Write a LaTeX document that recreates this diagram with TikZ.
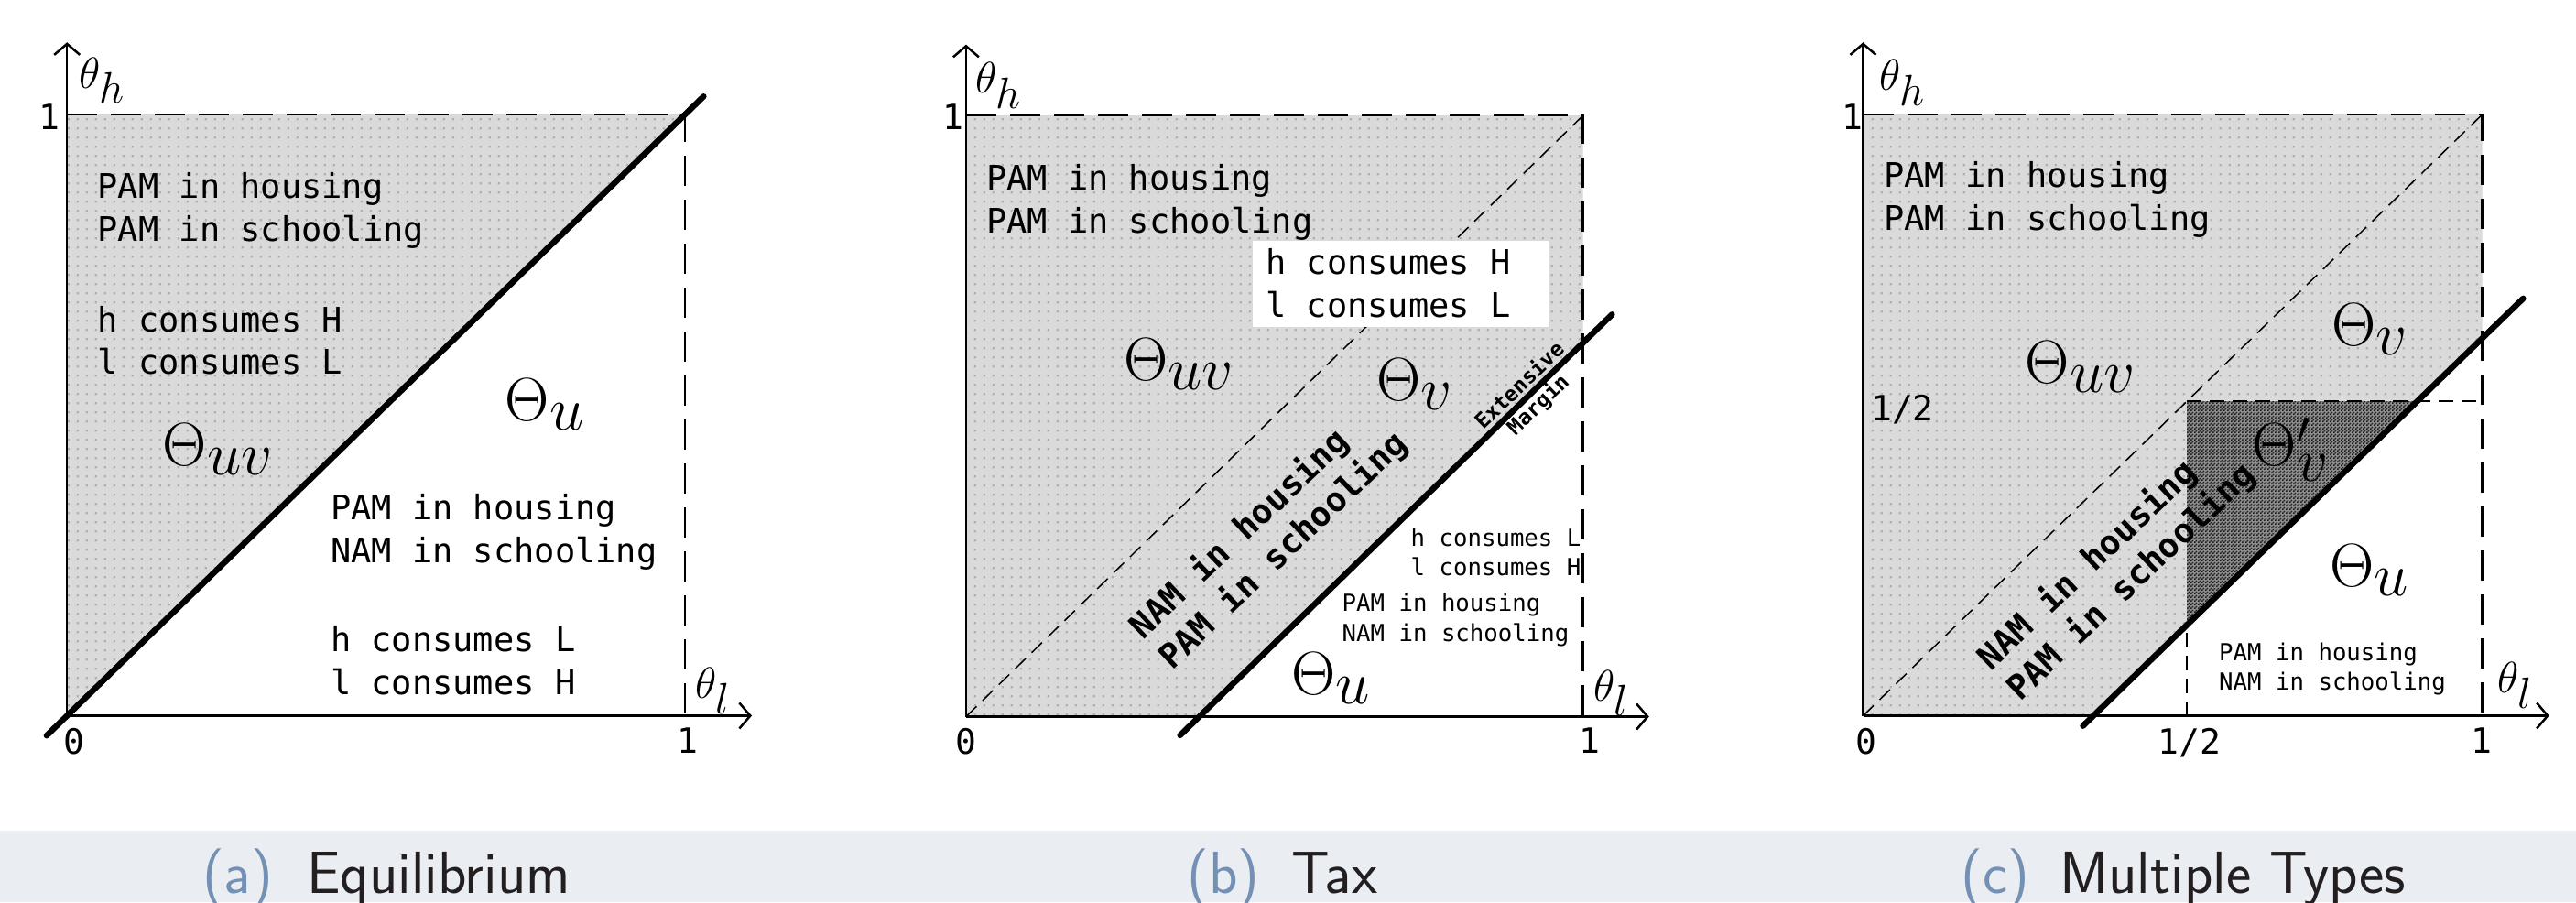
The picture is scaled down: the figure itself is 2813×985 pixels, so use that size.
\RequirePackage{fix-cm}
\documentclass[tikz,border=0pt]{standalone}
\usepackage{fontspec}
\newfontfamily\monof{DejaVu Sans Mono}
\newfontfamily\capf{lmsans17-regular.otf}
\usetikzlibrary{arrows.meta,patterns}
\DeclareMathSizes{67}{67}{50}{40}
\DeclareMathSizes{48}{48}{36}{28}
\definecolor{lgrey}{HTML}{DADADA}
\definecolor{dotgrey}{HTML}{B0B0B0}
\definecolor{darkbase}{HTML}{8C8C8C}
\definecolor{darkdots}{HTML}{1E1E1E}
\definecolor{bandc}{HTML}{EAEEF3}
\definecolor{capblue}{HTML}{7490B4}
\definecolor{captext}{HTML}{231F20}
\pgfdeclarepatternformonly{greydots}{\pgfqpoint{0pt}{0pt}}{\pgfqpoint{10pt}{10pt}}{\pgfqpoint{10pt}{10pt}}{\pgfpathrectangle{\pgfqpoint{4pt}{4pt}}{\pgfqpoint{2.4pt}{2.4pt}}\pgfusepath{fill}}
\pgfdeclarepatternformonly{finechecker}{\pgfqpoint{0pt}{0pt}}{\pgfqpoint{4pt}{4pt}}{\pgfqpoint{4pt}{4pt}}{\pgfpathrectangle{\pgfqpoint{0pt}{0pt}}{\pgfqpoint{2pt}{2pt}}\pgfpathrectangle{\pgfqpoint{2pt}{2pt}}{\pgfqpoint{2pt}{2pt}}\pgfusepath{fill}}
\tikzset{
  mono/.style={font=\fontsize{37}{46.6}\selectfont\monof, inner sep=0pt, anchor=base west},
  monosmall/.style={font=\fontsize{25.7}{33}\selectfont\monof, inner sep=0pt, anchor=base west},
  monobold/.style={font=\fontsize{37}{46}\selectfont\monof\bfseries, inner sep=0pt, align=left, rotate=43.5},
  tinybold/.style={font=\fontsize{23}{29}\selectfont\monof\bfseries, inner sep=0pt, align=center, rotate=44},
  bigmath/.style={font=\fontsize{67}{70}\selectfont, inner sep=0pt, anchor=base west},
  axmath/.style={font=\fontsize{48}{52}\selectfont, inner sep=0pt},
  tick/.style={font=\fontsize{38}{40}\selectfont\monof, inner sep=0pt},
  axisline/.style={line width=2.5pt, -{Straight Barb[length=12pt,width=28pt]}},
  bound/.style={line width=2.6pt, dash pattern=on 33pt off 15pt},
  thindash/.style={line width=1.5pt, dash pattern=on 16pt off 9pt},
  thickline/.style={line width=6.5pt, line cap=round},
  capfont/.style={font=\fontsize{65}{70}\selectfont\capf, inner sep=0pt, anchor=base west},
}
\begin{document}
\begin{tikzpicture}[x=1pt,y=-1pt]
\useasboundingbox (0,0) rectangle (2813,985);
\fill[white] (0,0) rectangle (2813,985);
% ---------------- panel a ----------------
\begin{scope}[shift={(73.2,781.5)}, x=674.9pt, y=656.5pt]
  \coordinate (aO) at (0,0); \coordinate (aX1) at (1,0);
  \coordinate (aY1) at (0,1); \coordinate (aC) at (1,1);
  \fill[lgrey] (aO) -- (aC) -- (aY1) -- cycle;
  \path[pattern=greydots, pattern color=dotgrey] (aO) -- (aC) -- (aY1) -- cycle;
  \draw[bound] (aY1) -- (aC) -- (aX1);
  \draw[axisline] (aO) -- (0,1.12);
  \draw[axisline] (aO) -- (1.108,0);
  \draw[thickline] (-0.033,-0.033) -- (1.03,1.03);
\end{scope}
\node[mono] (a1) at (106.5,216.6) {PAM in housing};
\node[mono] (a2) at (106.5,263.3) {PAM in schooling};
\node[mono] (a3) at (106.5,362) {h consumes H};
\node[mono] (a4) at (106.5,408.6) {l consumes L};
\node[mono] (a5) at (360.8,567.7) {PAM in housing};
\node[mono] (a6) at (360.8,614.3) {NAM in schooling};
\node[mono] (a7) at (360.8,711.3) {h consumes L};
\node[mono] (a8) at (360.8,758.5) {l consumes H};
\node[bigmath] (aUV) at (177.6,508.5) {$\Theta_{\textstyle uv}$};
\node[bigmath] (aU) at (551.7,459) {$\Theta_{\textstyle u}$};
\node[axmath] (aTh) at (111.1,87.8) {$\theta_{\textstyle h}$};
\node[axmath] (aTl) at (777.9,754.1) {$\theta_{\textstyle l}$};
\node[tick, anchor=north] (a0) at (81,795) {0};
\node[tick, anchor=north] (ax1) at (751,795) {1};
\node[tick] (ay1) at (54.2,128) {1};
% ---------------- panel b ----------------
\begin{scope}[shift={(1054.9,782.5)}, x=673.8pt, y=656.4pt]
  \coordinate (bO) at (0,0); \coordinate (bX1) at (1,0);
  \coordinate (bY1) at (0,1); \coordinate (bC) at (1,1);
  \fill[lgrey] (bO) -- (0.378,0) -- (1,0.622) -- (bC) -- (bY1) -- cycle;
  \path[pattern=greydots, pattern color=dotgrey] (bO) -- (0.378,0) -- (1,0.622) -- (bC) -- (bY1) -- cycle;
  \draw[thindash] (bO) -- (bC);
  \draw[bound] (bY1) -- (bC) -- (bX1);
  \draw[axisline] (bO) -- (0,1.118);
  \draw[axisline] (bO) -- (1.107,0);
  \draw[thickline] (0.347,-0.031) -- (1.047,0.669);
\end{scope}
\fill[white] (1368,263) rectangle (1691,357);
\node[mono] (b1) at (1076.8,207.3) {PAM in housing};
\node[mono] (b2) at (1076.8,254) {PAM in schooling};
\node[mono] (b3) at (1382,299.3) {h consumes H};
\node[mono] (b4) at (1382,346.2) {l consumes L};
\node[monosmall] (b5) at (1540.5,596.4) {h consumes L};
\node[monosmall] (b6) at (1540.5,628.6) {l consumes H};
\node[monosmall] (b7) at (1465.5,667) {PAM in housing};
\node[monosmall] (b8) at (1465.5,700.7) {NAM in schooling};
\node[monobold] (bRot) at (1386,585) {NAM in housing\\PAM in schooling};
\node[tinybold] (bExt) at (1670,432) {Extensive\\Margin};
\node[bigmath] (bUV) at (1227,415) {$\Theta_{\textstyle uv}$};
\node[bigmath] (bV) at (1503.5,437) {$\Theta_{\textstyle v}$};
\node[bigmath] (bU) at (1410,758) {$\Theta_{\textstyle u}$};
\node[axmath] (bTh) at (1090.1,93.2) {$\theta_{\textstyle h}$};
\node[axmath] (bTl) at (1759.6,756.9) {$\theta_{\textstyle l}$};
\node[tick, anchor=north] (b0) at (1055,795) {0};
\node[tick, anchor=north] (bx1) at (1736,795) {1};
\node[tick] (by1) at (1041.3,128) {1};
% ---------------- panel c ----------------
\begin{scope}[shift={(2034.5,781.5)}, x=676.2pt, y=656.5pt]
  \coordinate (cO) at (0,0); \coordinate (cX1) at (1,0);
  \coordinate (cY1) at (0,1); \coordinate (cC) at (1,1);
  \coordinate (cH) at (0.523,0.523);
  \fill[lgrey] (cO) -- (0.372,0) -- (1,0.628) -- (cC) -- (cY1) -- cycle;
  \path[pattern=greydots, pattern color=dotgrey] (cO) -- (0.372,0) -- (1,0.628) -- (cC) -- (cY1) -- cycle;
  \fill[darkbase] (cH) -- (0.523,0.151) -- (0.895,0.523) -- cycle;
  \path[pattern=finechecker, pattern color=darkdots] (cH) -- (0.523,0.151) -- (0.895,0.523) -- cycle;
  \draw[thindash] (cO) -- (cC);
  \draw[thindash] (cH) -- (1,0.523);
  \draw[thindash] (0.523,0) -- (0.523,0.151);
  \draw[bound] (cY1) -- (cC) -- (cX1);
  \draw[axisline] (cO) -- (0,1.12);
  \draw[axisline] (cO) -- (1.108,0);
  \draw[thickline] (0.355,-0.017) -- (1.066,0.694);
\end{scope}
\node[mono] (c1) at (2057,204) {PAM in housing};
\node[mono] (c2) at (2057,251.2) {PAM in schooling};
\node[tick, anchor=west] (cyh) at (2043,447) {1/2};
\node[tick, anchor=north] (cxh) at (2391,795) {1/2};
\node[monosmall] (c5) at (2423,721.7) {PAM in housing};
\node[monosmall] (c6) at (2423,753.3) {NAM in schooling};
\node[monobold] (cRot) at (2312,619) {NAM in housing\\PAM in schooling};
\node[bigmath] (cUV) at (2211.7,418) {$\Theta_{\textstyle uv}$};
\node[bigmath] (cV) at (2546.2,377) {$\Theta_{\textstyle v}$};
\node[bigmath] (cVp) at (2459.6,508.5) {$\Theta'_{\textstyle v}$};
\node[bigmath] (cU) at (2544,640.5) {$\Theta_{\textstyle u}$};
\node[axmath] (cTh) at (2077,90.5) {$\theta_{\textstyle h}$};
\node[axmath] (cTl) at (2746.1,748.6) {$\theta_{\textstyle l}$};
\node[tick, anchor=north] (c0) at (2037.8,795) {0};
\node[tick, anchor=north] (cx1) at (2709.6,795) {1};
\node[tick] (cy1) at (2022.6,128) {1};
% ---------------- captions ----------------
\fill[bandc] (0,906.7) rectangle (2813,985);
\node[capfont, text=capblue] (capa) at (221,975) {(a)};
\node[capfont, text=captext] (capat) at (335,975) {Equilibrium};
\node[capfont, text=capblue] (capb) at (1296,975) {(b)};
\node[capfont, text=captext] (capbt) at (1410,975) {Tax};
\node[capfont, text=capblue] (capc) at (2141,975) {(c)};
\node[capfont, text=captext] (capct) at (2249,975) {Multiple Types};
\end{tikzpicture}
\end{document}
